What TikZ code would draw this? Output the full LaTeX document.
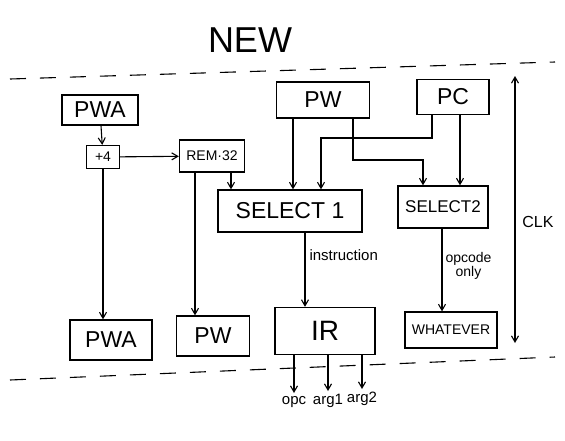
\documentclass[tikz,border=0pt]{standalone}
\usepackage{fontspec}
\setmainfont{Liberation Sans}
\usetikzlibrary{arrows.meta, positioning}

\begin{document}
\begin{tikzpicture}[
  x=1pt, y=-1pt,
  blk/.style={rectangle, draw, line width=1.3pt, font=\fontsize{23}{26}\selectfont,
              minimum width=1.7cm, minimum height=0.42cm, align=center, inner sep=1pt},
  fs/.style={font=\fontsize{#1}{#1}\selectfont},
  arr/.style={-{Straight Barb[angle=60:7pt]}, line width=1.1pt},
  sig/.style={font=\fontsize{15}{16}\selectfont, inner sep=1pt},
  clk/.style={line width=1.1pt, dash pattern=on 16pt off 14pt}
]
\useasboundingbox (0,0) rectangle (565,440);

\node[fs=36] (title) at (250,40) {NEW};
\draw[clk] (10,79) -- (555,62);
\draw[clk] (10,380) -- (555,357);

% registers on the left
\node[blk, minimum width=76pt, minimum height=30pt] (pwatop) at (100,110) {PWA};
\node[blk, minimum width=33pt, minimum height=23pt, fs=14] (inc) at (103,157) {+4};
\node[blk, minimum width=65pt, minimum height=32pt, fs=14] (rem) at (212,156) {REM·32};
\node[blk, minimum width=82pt, minimum height=40pt] (pwabot) at (111,340) {PWA};
\node[blk, minimum width=73pt, minimum height=40pt] (pwbot) at (213,336) {PW};

% registers on the right
\node[blk, minimum width=93pt, minimum height=36pt] (pwtop) at (323,100) {PW};
\node[blk, minimum width=72pt, minimum height=35pt] (pc) at (453,97) {PC};
\node[blk, minimum width=144pt, minimum height=42pt] (sel1) at (290,211) {SELECT 1};
\node[blk, minimum width=90pt, minimum height=42pt, fs=17] (sel2) at (443,207) {SELECT2};
\node[blk, minimum width=100pt, minimum height=47pt, fs=28] (ir) at (325,331) {IR};
\node[blk, minimum width=92pt, minimum height=36pt, fs=14] (what) at (451,330) {WHATEVER};

\coordinate (opc) at (294,393);
\coordinate (arga) at (328,391);
\coordinate (argb) at (362,389);
\node[sig, below=2pt of opc] (opclbl) {opc};
\node[sig, below=2pt of arga] (argalbl) {arg1};
\node[sig, below=2pt of argb] (argblbl) {arg2};

\coordinate (clktop) at (515,76);
\coordinate (clkbot) at (515,343);
\node[fs=16] (clklbl) at (538,222) {CLK};

\draw[arr] (pwatop) -- (inc);
\draw[arr] (inc) -- (rem);
\draw[arr] (inc.south) -- (inc.south |- pwabot.north);
\draw[arr] (rem.south -| 195,0) -- (195,0 |- pwbot.north);
\draw[arr] (rem.south -| 231,0) -- (231,0 |- sel1.north);
\draw[arr] (pwtop.south -| 293,0) -- (293,0 |- sel1.north);
\draw[arr] (pc.south -| 432,0) |- (321,138) -- (321,0 |- sel1.north);
\draw[arr] (pwtop.south -| 353,0) |- (423,160) -- (423,0 |- sel2.north);
\draw[arr] (pc.south -| 460,0) -- (460,0 |- sel2.north);
\draw[arr] (sel1.south -| 305,0) -- node[sig, right, pos=0.3, xshift=3pt, fs=15] {instruction} (305,0 |- ir.north);
\draw[arr] (sel2.south -| 442,0) -- node[sig, right, pos=0.45, align=center, xshift=2pt, fs=14] {opcode\\only} (442,0 |- what.north);
\draw[arr] (ir.south -| opc) -- (opc);
\draw[arr] (ir.south -| arga) -- (arga);
\draw[arr] (ir.south -| argb) -- (argb);
\draw[arr, {Straight Barb[angle=60:7pt]}-{Straight Barb[angle=60:7pt]}] (clktop) -- (clkbot);
\end{tikzpicture}
\end{document}
